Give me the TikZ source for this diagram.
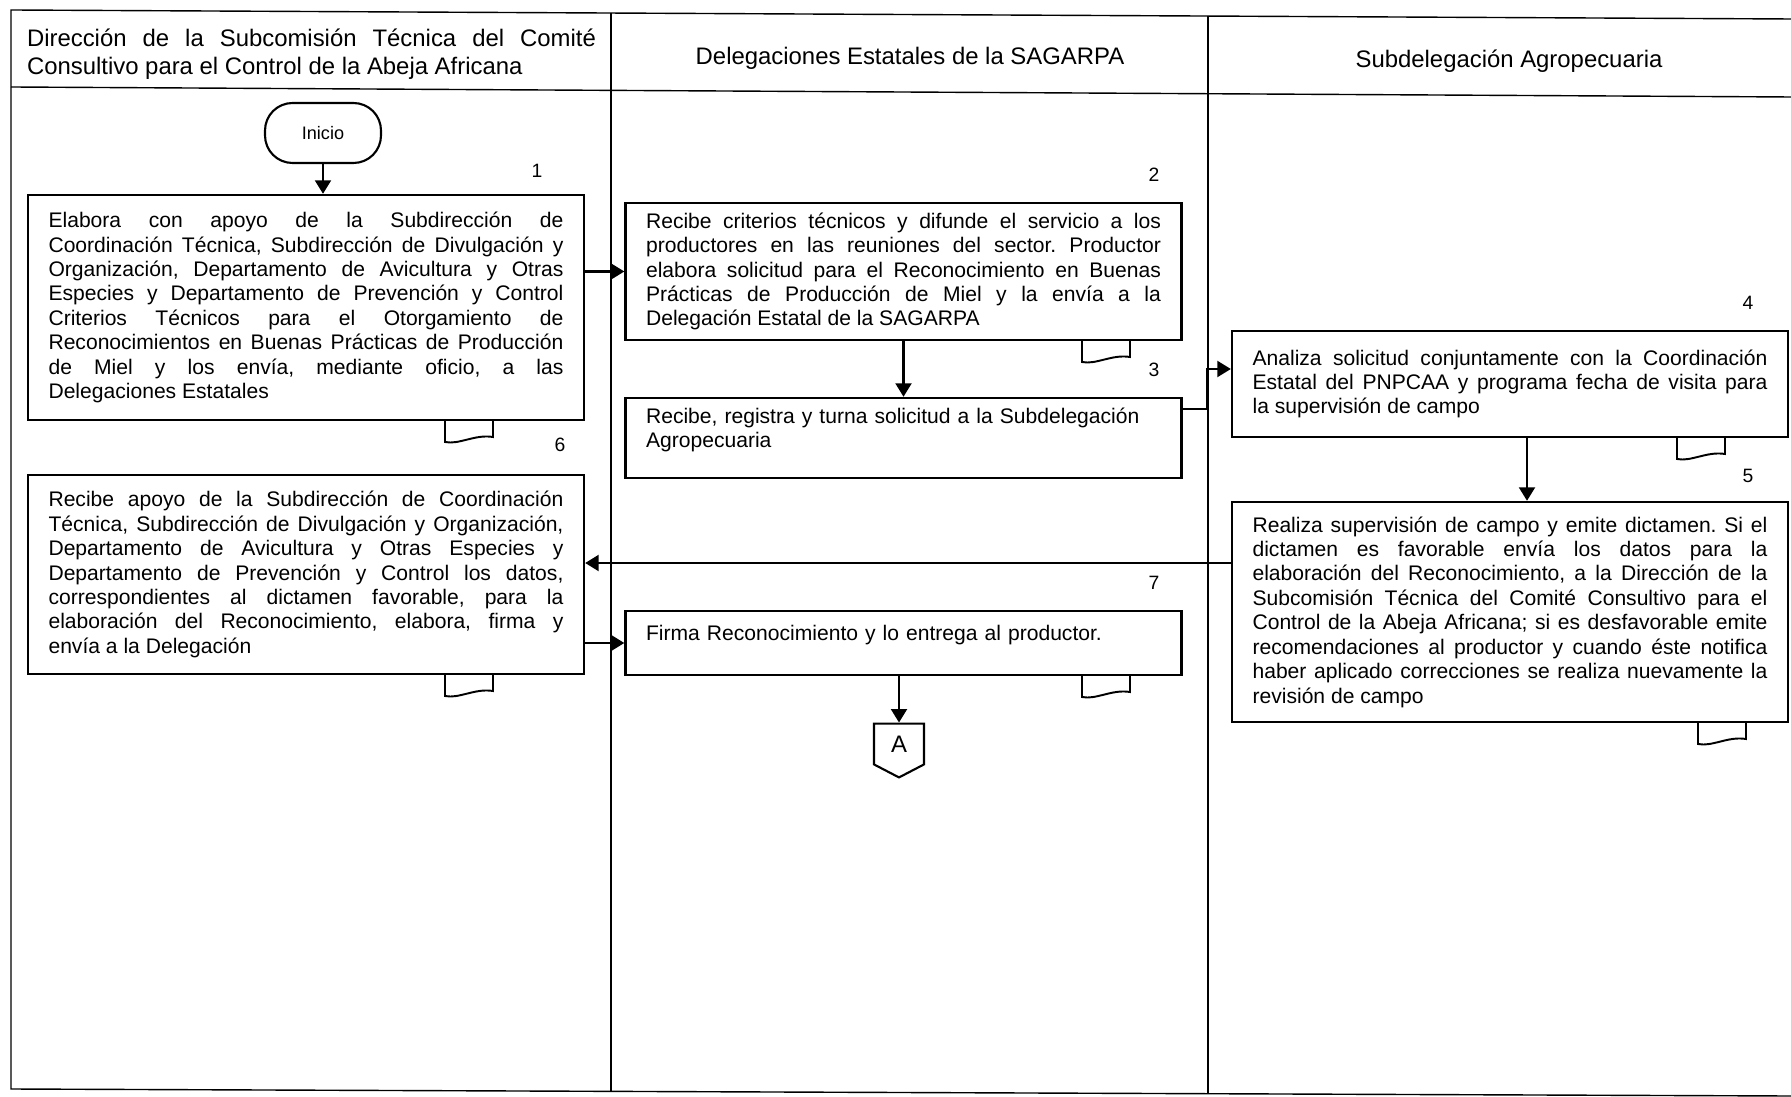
\documentclass[tikz,border=0pt]{standalone}
\usepackage{fontspec}
\setmainfont{Liberation Sans}
\usepackage{tikz}
\usetikzlibrary{arrows.meta,shapes.symbols}
\tikzset{>={Triangle[width=0.32cm,length=0.27cm]}}
\tolerance=9999
\hbadness=10000
\frenchspacing
\newcommand{\headfont}{\fontsize{13.6}{15.9}\selectfont}
\newcommand{\stepfont}{\fontsize{12}{13.9}\selectfont}
\tikzset{
	lane/.style={draw=black, line width=0.8pt},
	procbox/.style={draw=black, line width=1.4pt, text width=10.3cm, inner xsep=0.41cm, font=\stepfont, align=justify},
	flow/.style={->, line width=1.2pt},
	stepnum/.style={font=\fontsize{11}{13}\selectfont},
	doctab/.pic={\draw[line width=1.1pt] (0,0) -- (0,22) .. controls (14,25) and (30,14) .. (48,17) -- (48,0);}
}

\begin{document}
\begin{tikzpicture}[x=0.02cm, y=-0.02cm]
	\fill[white] (0,0) rectangle (1791,1097);
	\useasboundingbox (0,0) rectangle (1791,1097);
	\draw[lane] (1791,19) -- (11,10) -- (11,1089) -- (1791,1096);
	\draw[lane] (11,87) -- (1791,97);
	\draw[lane] (611,13) -- (611,1092);
	\draw[lane] (1208,16) -- (1208,1094);
	\node[font=\headfont, text width=11.38cm, align=justify] (head1) at (311.5,54) {Dirección de la Subcomisión Técnica del Comité\linebreak Consultivo para el Control de la Abeja Africana};
	\node[font=\headfont] (head2) at (910,58) {Delegaciones Estatales de la SAGARPA};
	\node[font=\headfont] (head3) at (1509,61) {Subdelegación Agropecuaria};
	\node[draw=black, line width=1.2pt, rounded corners=0.55cm, minimum width=2.32cm, minimum height=1.2cm, font=\fontsize{10.3}{12}\selectfont] (inicio) at (323,133) {Inicio};
	\node[procbox, minimum height=4.5cm] (b1) at (306,307.5) {Elabora con apoyo de la Subdirección de\linebreak Coordinación Técnica, Subdirección de Divulgación y\linebreak Organización, Departamento de Avicultura y Otras\linebreak Especies y Departamento de Prevención y Control\linebreak Criterios Técnicos para el Otorgamiento de\linebreak Reconocimientos en Buenas Prácticas de Producción\linebreak de Miel y los envía, mediante oficio, a las\linebreak Delegaciones Estatales};
	\node[procbox, minimum height=3.98cm] (b6) at (306,574.5) {Recibe apoyo de la Subdirección de Coordinación\linebreak Técnica, Subdirección de Divulgación y Organización,\linebreak Departamento de Avicultura y Otras Especies y\linebreak Departamento de Prevención y Control los datos,\linebreak correspondientes al dictamen favorable, para la\linebreak elaboración del Reconocimiento, elabora, firma y\linebreak envía a la Delegación};
	\node[procbox, minimum height=2.74cm] (b2) at (903.5,271.5) {Recibe criterios técnicos y difunde el servicio a los\linebreak productores en las reuniones del sector. Productor\linebreak elabora solicitud para el Reconocimiento en Buenas\linebreak Prácticas de Producción de Miel y la envía a la\linebreak Delegación Estatal de la SAGARPA};
	\node[procbox, minimum height=1.6cm, align=left] (b3) at (903.5,438) {Recibe, registra y turna solicitud a la Subdelegación\\ Agropecuaria\rule[-0.4cm]{0pt}{0.4cm}};
	\node[procbox, minimum height=1.28cm, align=left] (b7) at (903.5,643) {Firma Reconocimiento y lo entrega al productor.\rule[-0.4cm]{0pt}{0.4cm}};
	\node[procbox, minimum height=2.12cm] (b4) at (1510,384) {Analiza solicitud conjuntamente con la Coordinación\linebreak Estatal del PNPCAA y programa fecha de visita para\linebreak la supervisión de campo};
	\node[procbox, minimum height=4.4cm] (b5) at (1510,612) {Realiza supervisión de campo y emite dictamen. Si el\linebreak dictamen es favorable envía los datos para la\linebreak elaboración del Reconocimiento, a la Dirección de la\linebreak Subcomisión Técnica del Comité Consultivo para el\linebreak Control de la Abeja Africana; si es desfavorable emite\linebreak recomendaciones al productor y cuando éste notifica\linebreak haber aplicado correcciones se realiza nuevamente la\linebreak revisión de campo};
	\node[draw=black, line width=1.2pt, shape=signal, signal to=south, signal from=nowhere, signal pointer angle=125, minimum width=1cm, minimum height=0.9cm, inner sep=0pt, font=\fontsize{13.6}{16}\selectfont] (offA) at (899,744) {A};
	\node[stepnum] (n1) at (537,171) {1};
	\node[stepnum] (n2) at (1154,175) {2};
	\node[stepnum] (n3) at (1154,370) {3};
	\node[stepnum] (n4) at (1748,303) {4};
	\node[stepnum] (n5) at (1748,476) {5};
	\node[stepnum] (n6) at (560,445) {6};
	\node[stepnum] (n7) at (1154,583) {7};
	\draw[flow] (inicio) -- (inicio |- b1.north);
	\draw[flow] (b2.west -| b1.east) -- (b2.west);
	\draw[flow] (b2) -- (b3);
	\draw[flow] ([yshift=-0.24cm]b3.north east) -- ++(24,0) |- ([yshift=0.3cm]b4.west);
	\draw[flow] ([xshift=0.34cm]b4.south) -- ([xshift=0.34cm]b5.north);
	\draw[flow] ([yshift=0.98cm]b5.west) -- ([yshift=0.98cm]b5.west -| b6.east);
	\draw[flow] (b7.west -| b6.east) -- (b7.west);
	\draw[flow] (b7.south -| offA.north) -- (offA.north);
	\pic at (445,420) {doctab};
	\pic at (445,674) {doctab};
	\pic at (1082,340) {doctab};
	\pic at (1082,675) {doctab};
	\pic at (1677,437) {doctab};
	\pic at (1698,722) {doctab};
\end{tikzpicture}
\end{document}
